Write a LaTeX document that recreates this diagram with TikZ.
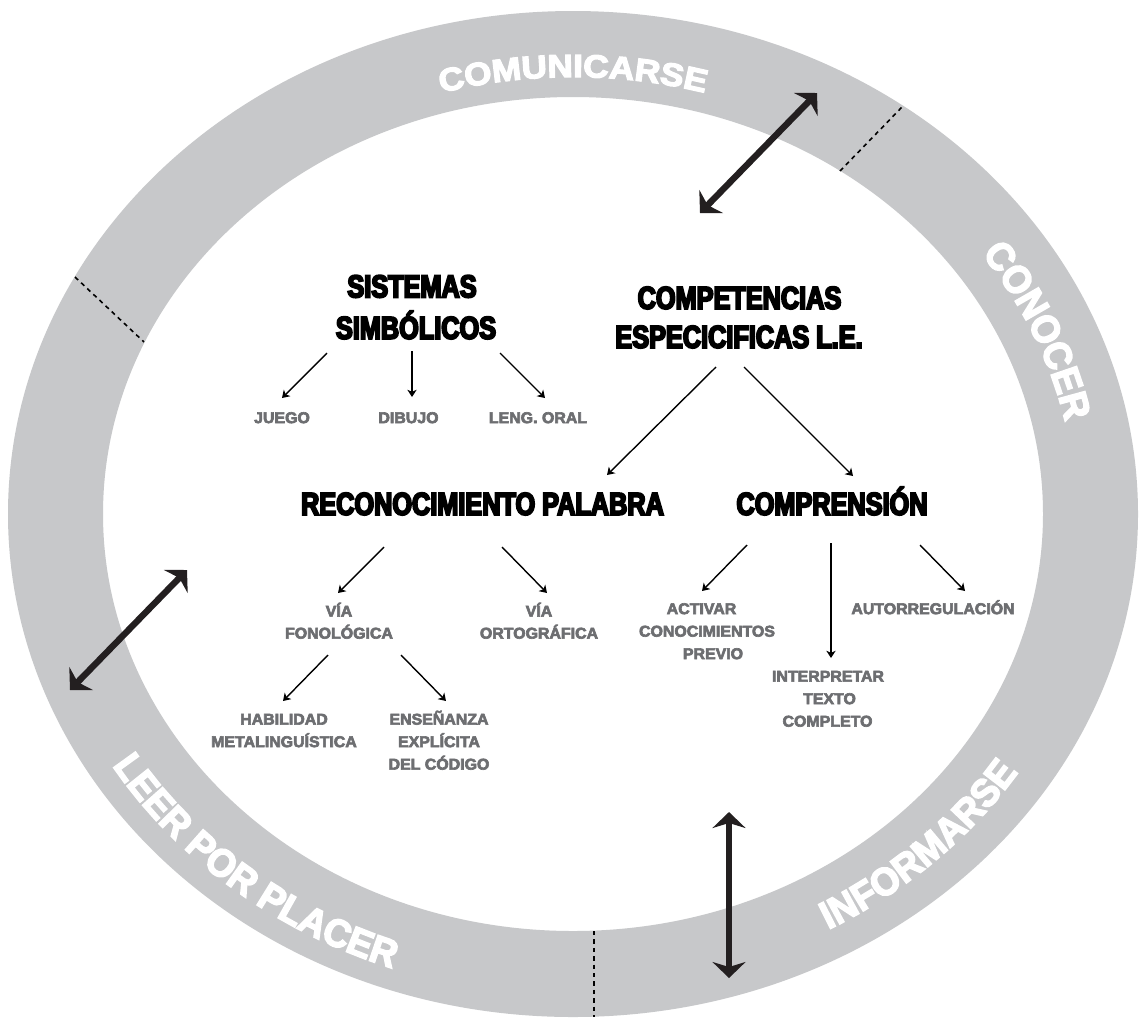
\documentclass[tikz,border=0pt]{standalone}
\usepackage{fontspec}
\usetikzlibrary{arrows.meta,decorations.text,calc}
\newfontfamily\headfam{Liberation Sans}[UprightFont={* Bold},FakeStretch=0.80,FakeBold=6]
\newfontfamily\grayfam{Liberation Sans}[UprightFont={* Bold},FakeStretch=1.02,FakeBold=4]
\newfontfamily\ringAfam{Liberation Sans}[UprightFont={* Bold},FakeStretch=1.10,FakeBold=4]
\newfontfamily\ringBfam{Liberation Sans}[UprightFont={* Bold},FakeStretch=0.95,FakeBold=4]
\newcommand\headfont{\headfam\fontsize{15.8pt}{15.8pt}\selectfont}
\newcommand\grayfont{\grayfam\fontsize{7.8pt}{7.8pt}\selectfont}
\newcommand\ringAfont{\ringAfam\fontsize{16pt}{16pt}\selectfont}
\newcommand\ringBfont{\ringBfam\fontsize{19.5pt}{19.5pt}\selectfont}
\definecolor{ringgray}{RGB}{199,200,202}
\definecolor{lblgray}{RGB}{109,110,113}
\definecolor{ink}{RGB}{35,31,32}
\begin{document}
\begin{tikzpicture}[x=0.5pt,y=0.5pt,
  head/.style={font=\headfont, text=black, inner sep=0pt, text height=11.3pt, text depth=0pt},
  graylbl/.style={font=\grayfont, text=lblgray, inner sep=0pt, text height=5.6pt, text depth=0pt},
  thinarr/.style={line width=0.7pt, -{Stealth[length=3.6pt,width=4.6pt,inset=1pt]}},
  bigarr/.style={draw=ink, line width=3.2pt, {Stealth[length=8pt,width=16.5pt,inset=2.5pt]}-{Stealth[length=8pt,width=16.5pt,inset=2.5pt]}},
  sepline/.style={line width=0.8pt, dash pattern=on 2.2pt off 2pt},
  ringtextA/.style={decorate, decoration={text along path, text align=center, text={|\ringAfont\color{white}|#1}}},
  ringtextB/.style={decorate, decoration={text along path, text align=center, text={|\ringBfont\color{white}|#1}}}
]
\fill[white] (0,0) rectangle (1140,-1019);
\useasboundingbox (0,0) rectangle (1140,-1019);

% ring
\fill[ringgray, even odd rule] (573,-514) ellipse [x radius=565, y radius=503]
                               (573,-514) ellipse [x radius=470, y radius=417];

% separators
\coordinate (d1i) at (840,-171);  \coordinate (d1o) at (903,-106);
\coordinate (d2o) at (75,-277);   \coordinate (d2i) at (144,-342);
\coordinate (d3i) at (594,-931);  \coordinate (d3o) at (594,-1017);
\draw[sepline] (d1i) -- (d1o);
\draw[sepline] (d2o) -- (d2i);
\draw[sepline] (d3i) -- (d3o);

% ring labels
\path[shift={(573,-514)}, ringtextA=COMUNICARSE]
  (130:494 and 437) arc[start angle=130, end angle=50, x radius=494, y radius=437];
\path[shift={(573,-514)}, ringtextB=CONOCER]
  (59:503 and 446) arc[start angle=59, end angle=-13, x radius=503, y radius=446];
\path[shift={(573,-514)}, ringtextB=INFORMARSE]
  (-86:531 and 474) arc[start angle=-86, end angle=-6, x radius=531, y radius=474];
\path[shift={(573,-514)}, ringtextB={LEER POR PLACER}]
  (190:540 and 482) arc[start angle=190, end angle=270, x radius=540, y radius=482];

% big double arrows
\coordinate (ba1) at (700,-213); \coordinate (bb1) at (817,-93);
\coordinate (ba2) at (70,-690);  \coordinate (bb2) at (187,-570);
\coordinate (ba3) at (729,-812); \coordinate (bb3) at (729,-978);
\draw[bigarr] (ba1) -- (bb1);
\draw[bigarr] (ba2) -- (bb2);
\draw[bigarr] (ba3) -- (bb3);

% headings
\node[head] (sis1) at (412,-286) {SISTEMAS};
\node[head] (sis2) at (416,-327.5) {SIMBÓLICOS};
\node[head] (com1) at (739.5,-297.5) {COMPETENCIAS};
\node[head] (com2) at (739,-336.5) {ESPECICIFICAS L.E.};
\node[head] (rec) at (482.5,-503.5) {RECONOCIMIENTO PALABRA};
\node[head] (cpr) at (832,-503.5) {COMPRENSIÓN};

% gray labels
\node[graylbl] (jue) at (282,-417.5) {JUEGO};
\node[graylbl] (dib) at (408.5,-417.5) {DIBUJO};
\node[graylbl] (len) at (538,-417.5) {LENG. ORAL};
\node[graylbl] (vf1) at (339,-611) {VÍA};
\node[graylbl] (vf2) at (339,-633) {FONOLÓGICA};
\node[graylbl] (vo1) at (539,-611) {VÍA};
\node[graylbl] (vo2) at (539,-633) {ORTOGRÁFICA};
\node[graylbl] (hab1) at (284,-719) {HABILIDAD};
\node[graylbl] (hab2) at (284,-741.5) {METALINGUÍSTICA};
\node[graylbl] (ens1) at (439,-719) {ENSEÑANZA};
\node[graylbl] (ens2) at (439,-741.5) {EXPLÍCITA};
\node[graylbl] (ens3) at (439,-764) {DEL CÓDIGO};
\node[graylbl] (act1) at (701.5,-608.5) {ACTIVAR};
\node[graylbl] (act2) at (707,-631) {CONOCIMIENTOS};
\node[graylbl] (act3) at (713,-653.5) {PREVIO};
\node[graylbl] (int1) at (828,-676) {INTERPRETAR};
\node[graylbl] (int2) at (829.5,-698.5) {TEXTO};
\node[graylbl] (int3) at (827.5,-721) {COMPLETO};
\node[graylbl] (aut) at (933,-608.5) {AUTORREGULACIÓN};

% thin arrows
\draw[thinarr] ($(sis2)+(-89,-25.5)$) -- ($(jue)+(0,19.5)$);
\draw[thinarr] ($(sis2)+(-4,-23.5)$) -- ($(dib)+(3.5,20.5)$);
\draw[thinarr] ($(sis2)+(84,-25.5)$) -- ($(len)+(7,19.5)$);
\draw[thinarr] ($(com2)+(-23,-30.5)$) -- ($(rec)+(124.5,28.5)$);
\draw[thinarr] ($(com2)+(5,-30.5)$) -- ($(cpr)+(21,27.5)$);
\draw[thinarr] ($(rec)+(-98.5,-43.5)$) -- ($(vf1)+(-1,18)$);
\draw[thinarr] ($(rec)+(19.5,-43.5)$) -- ($(vo1)+(8,18)$);
\draw[thinarr] ($(vf2)+(-11,-22)$) -- ($(hab1)+(-1,18)$);
\draw[thinarr] ($(vf2)+(62,-22)$) -- ($(ens1)+(7,18)$);
\draw[thinarr] ($(cpr)+(-85,-41.5)$) -- ($(act1)+(0.5,17.5)$);
\draw[thinarr] ($(cpr)+(-1,-39.5)$) -- ($(int1)+(3,18)$);
\draw[thinarr] ($(cpr)+(88,-41.5)$) -- ($(aut)+(32,17.5)$);
\end{tikzpicture}
\end{document}
